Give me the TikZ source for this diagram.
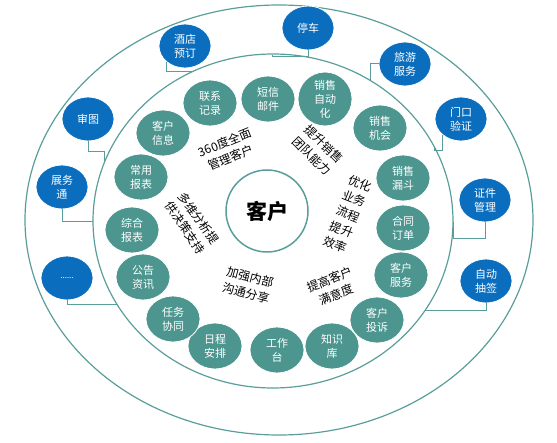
\documentclass[tikz,border=0pt]{standalone}
\usepackage{fontspec}
\setmainfont{Noto Sans CJK SC}
\usepackage{tikz}
\usetikzlibrary{shapes}
\usetikzlibrary{positioning}
\usepackage{xcolor}
\definecolor{ringline}{HTML}{5A9E9B}
\definecolor{tealfill}{HTML}{4D9690}
\definecolor{bluefill}{HTML}{0A6DBE}

\begin{document}
\begin{tikzpicture}[x=1pt,y=-1pt]
      \useasboundingbox (0,0) rectangle (557,443);

      % rings
      \draw[ringline,line width=1.2pt] (279,220) ellipse (254 and 215);
      \draw[ringline,line width=1.2pt] (273,221) ellipse (180 and 167);
      \node[circle,draw=ringline,line width=1.5pt,minimum size=82pt,font=\bfseries\fontsize{21}{24}\selectfont] (kehu) at (267,211) {客户};

      % inner modules
      \begin{scope}[shape=ellipse,minimum width=54pt,minimum height=46pt,inner sep=0pt,text=white,align=center,font=\fontsize{11}{14}\selectfont]
          \tikzstyle{every node}=[fill=tealfill,draw=white,line width=0.8pt]
          \node (contact)   at (210,103) {联系\\记录};
          \node (sms)       at (268,99)  {短信\\邮件};
          \node (sfa)       at (325,99)  {销售\\自动\\化};
          \node (chance)    at (380,128) {销售\\机会};
          \node (funnel)    at (403,178) {销售\\漏斗};
          \node (contract)  at (403,228) {合同\\订单};
          \node (service)   at (401,275) {客户\\服务};
          \node (complaint) at (377,320) {客户\\投诉};
          \node (kbase)     at (332,346) {知识\\库};
          \node (desk)      at (277,350) {工作\\台};
          \node (schedule)  at (215,346) {日程\\安排};
          \node (task)      at (173,319) {任务\\协同};
          \node (notice)    at (143,277) {公告\\资讯};
          \node (report)    at (132,230) {综合\\报表};
          \node (common)    at (141,177) {常用\\报表};
          \node (info)      at (163,133) {客户\\信息};
      \end{scope}

      % outer modules
      \begin{scope}[shape=ellipse,minimum width=52pt,minimum height=44pt,inner sep=0pt,text=white,align=center,font=\fontsize{11}{14}\selectfont]
          \tikzstyle{every node}=[fill=bluefill,draw=white,line width=0.8pt]
          \node (hotel)   at (185,46)  {酒店\\预订};
          \node (park)    at (308,28)  {停车};
          \node (tour)    at (405,64)  {旅游\\服务};
          \node (gate)    at (461,119) {门口\\验证};
          \node (cert)    at (485,200) {证件\\管理};
          \node (lottery) at (486,281) {自动\\抽签};
          \node (audit)   at (88,119)  {审图};
          \node (expo)    at (62,187)  {展务\\通};
          \node (more)    at (67,278)  {\fontsize{8}{8}\selectfont ......};
      \end{scope}

      % goals
      \begin{scope}[align=center,font=\fontsize{12}{16.5}\selectfont]
          \node[rotate=22]  (goal1) at (228,150) {360度全面\\管理客户};
          \node[rotate=-45] (goal2) at (318,150) {提升销售\\团队能力};
          \node[rotate=-22] (goal3) at (348,214) {优化\\业务\\流程\\提升\\效率};
          \node[rotate=-55] (goal4) at (192,223) {多维分析提\\供决策支持};
          \node[rotate=-15] (goal5) at (248,285) {加强内部\\沟通分享};
          \node[rotate=22]  (goal6) at (333,287) {提高客户\\满意度};
      \end{scope}

      % ends on the inner ring
      \coordinate (e1) at (192,72);
      \coordinate (e2) at (272,55);
      \coordinate (e3) at (370,80);
      \coordinate (e4) at (434,146);
      \coordinate (e5) at (453,222);
      \coordinate (e6) at (425,311);
      \coordinate (e7) at (104,163);
      \coordinate (e8) at (93,222);
      \coordinate (e9) at (117,305);

      \draw[ringline,line width=1pt] (hotel.south west) |- (e1);
      \draw[ringline,line width=1pt] (park.south) -- ++(0,6) -| (e2);
      \draw[ringline,line width=1pt] (tour.west) -| (e3);
      \draw[ringline,line width=1pt] (gate.south west) -- ++(0,16) -| (e4);
      \draw[ringline,line width=1pt] (cert.south) -- ++(0,16) -| (e5);
      \draw[ringline,line width=1pt] (lottery.south) |- (e6);
      \draw[ringline,line width=1pt] (audit.south) -- ++(0,10) -| (e7);
      \draw[ringline,line width=1pt] (expo.south) |- (e8);
      \draw[ringline,line width=1pt] (more.south) |- (e9);
  \end{tikzpicture}
\end{document}
